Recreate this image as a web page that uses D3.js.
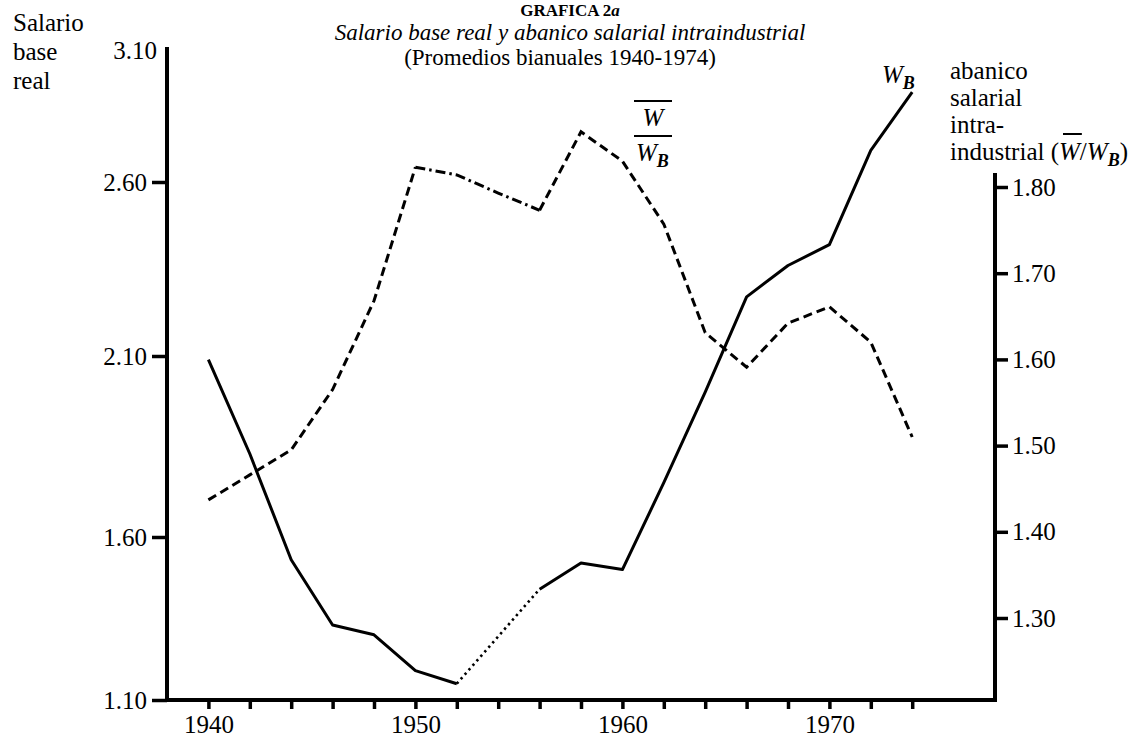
<!DOCTYPE html>
<html>
<head>
<meta charset="utf-8">
<script src="https://cdn.jsdelivr.net/npm/d3@7"></script>
<style>
body { margin: 0; background: #fff; }
svg text { font-family: "Liberation Serif", "Times New Roman", serif; fill: #000; }
</style>
</head>
<body>
<svg id="chart" width="1140" height="738"></svg>
<script>

// bianual averages
var years = [1940, 1942, 1944, 1946, 1948, 1950, 1952, 1954, 1956, 1958, 1960, 1962, 1964, 1966, 1968, 1970, 1972, 1974]
// W_B, salario base real (left axis); 1954 is not plotted, the chart bridges it with dots
var salarioBase = [2.09, 1.83, 1.53, 1.33, 1.30, 1.19, 1.15, null, 1.44, 1.52, 1.50, 1.75, 2.00, 2.27, 2.36, 2.42, 2.72, 2.94]
// W/W_B, abanico salarial intraindustrial (right axis)
var abanico = [1.437, 1.466, 1.495, 1.565, 1.668, 1.823, 1.814, 1.793, 1.773, 1.864, 1.83, 1.757, 1.631, 1.591, 1.642, 1.661, 1.620, 1.510]
var dashDotYears = [1950, 1956]

var yearTicks = [1940, 1942, 1944, 1946, 1948, 1950, 1952, 1954, 1956, 1958, 1960, 1962, 1964, 1966, 1968, 1970, 1972, 1974]
var yearLabels = [1940, 1950, 1960, 1970]
var leftTicks = [1.10, 1.60, 2.10, 2.60, 3.10]
var rightTicks = [1.30, 1.40, 1.50, 1.60, 1.70, 1.80]

var svg = d3.select('#chart')
var baseY = 700, rightTop = 173

var x = d3.scaleLinear().domain([1938, 1978]).range([167, 995])
// the printed left scale is not evenly spaced, so map each tick to where it was drawn
var yL = d3.scaleLinear().domain(leftTicks).range([700, 537, 356, 182, 50])
var yR = d3.scaleLinear().domain([1.30, 1.80]).range([618, 187])

function styleAxis(g) {
    g.attr('font-family', null).attr('font-size', 25)
    g.selectAll('.tick text').attr('fill', '#000')
    g.selectAll('.tick line').attr('stroke', '#000').attr('stroke-width', 3.5)
    g.select('.domain').attr('stroke', '#000').attr('stroke-width', 4)
}

// x axis
var gx = svg.append('g')
    .attr('transform', 'translate(0,' + baseY + ')')
    .call(d3.axisBottom(x)
        .tickValues(yearTicks)
        .tickSize(9).tickSizeOuter(0).tickPadding(6)
        .tickFormat(function(d) { return yearLabels.indexOf(d) >= 0 ? d : '' }))
    .call(styleAxis)
gx.select('.domain').attr('d', 'M' + x(1938) + ',0H' + (x(1978) + 2))

// left axis
var gl = svg.append('g')
    .attr('transform', 'translate(' + x(1938) + ',0)')
    .call(d3.axisLeft(yL)
        .tickValues(leftTicks)
        .tickSize(15).tickSizeOuter(0).tickPadding(5)
        .tickFormat(d3.format('.2f')))
    .call(styleAxis)
gl.select('.domain').attr('d', 'M0,' + (baseY + 2) + 'V47')
gl.selectAll('.tick').filter(function(d) { return d === 3.10 }).each(function() {
    d3.select(this).select('line').remove()
    d3.select(this).select('text').attr('x', -10)
})

// right axis
var gr = svg.append('g')
    .attr('transform', 'translate(' + x(1978) + ',0)')
    .call(d3.axisRight(yR)
        .tickValues(rightTicks)
        .tickSize(13).tickSizeOuter(0).tickPadding(4)
        .tickFormat(d3.format('.2f')))
    .call(styleAxis)
gr.select('.domain').attr('d', 'M0,' + rightTop + 'V' + (baseY + 2))

// W_B line
var wb = years.map(function(yr, i) { return {year: yr, v: salarioBase[i]} })
var solid = d3.line()
    .defined(function(d) { return d.v != null })
    .x(function(d) { return x(d.year) })
    .y(function(d) { return yL(d.v) })

svg.append('path')
    .datum(wb)
    .attr('d', solid)
    .attr('fill', 'none').attr('stroke', '#000').attr('stroke-width', 3)
    .attr('stroke-linejoin', 'round')

var bridges = []
wb.forEach(function(d, i) {
    if (d.v == null && i > 0 && i < wb.length - 1) bridges.push([wb[i - 1], wb[i + 1]])
})
svg.selectAll('.bridge')
    .data(bridges)
    .enter().append('path')
    .attr('class', 'bridge')
    .attr('d', solid)
    .attr('fill', 'none').attr('stroke', '#000').attr('stroke-width', 2.6)
    .attr('stroke-dasharray', '2.4,3.6')

// W/W_B line, split into dashed and dash-dot runs
var ab = years.map(function(yr, i) { return {year: yr, v: abanico[i]} })
var runs = []
d3.pairs(ab).forEach(function(p) {
    var dd = p[0].year >= dashDotYears[0] && p[1].year <= dashDotYears[1]
    var last = runs[runs.length - 1]
    if (last && last.dd === dd) last.pts.push(p[1])
    else runs.push({dd: dd, pts: [p[0], p[1]]})
})
var dashed = d3.line()
    .x(function(d) { return x(d.year) })
    .y(function(d) { return yR(d.v) })

svg.selectAll('.ratio')
    .data(runs)
    .enter().append('path')
    .attr('class', 'ratio')
    .attr('d', function(r) { return dashed(r.pts) })
    .attr('fill', 'none').attr('stroke', '#000').attr('stroke-width', 3)
    .attr('stroke-dasharray', function(r) { return r.dd ? '10,4,2.5,4' : '9,5' })

// titles
svg.append('text')
    .attr('x', 570).attr('y', 16)
    .attr('text-anchor', 'middle').attr('font-size', 17).attr('font-weight', 'bold')
    .text('GRAFICA 2')
    .append('tspan').attr('font-style', 'italic').text('a')

svg.append('text')
    .attr('x', 570).attr('y', 40)
    .attr('text-anchor', 'middle').attr('font-size', 23).attr('font-style', 'italic')
    .text('Salario base real y abanico salarial intraindustrial')

svg.append('text')
    .attr('x', 560).attr('y', 65)
    .attr('text-anchor', 'middle').attr('font-size', 23)
    .text('(Promedios bianuales 1940-1974)')

svg.selectAll('.ltitle')
    .data(['Salario', 'base', 'real'])
    .enter().append('text')
    .attr('class', 'ltitle')
    .attr('x', 13).attr('y', function(d, i) { return 31 + i * 29 })
    .attr('font-size', 25)
    .text(function(d) { return d })

svg.selectAll('.rtitle')
    .data(['abanico', 'salarial', 'intra-'])
    .enter().append('text')
    .attr('class', 'rtitle')
    .attr('x', 950).attr('y', function(d, i) { return 79 + i * 27 })
    .attr('font-size', 25)
    .text(function(d) { return d })

var ind = svg.append('text')
    .attr('x', 950).attr('y', 160)
    .attr('font-size', 25)
ind.append('tspan').text('industrial (')
ind.append('tspan').attr('font-style', 'italic').text('W')
ind.append('tspan').text('/')
ind.append('tspan').attr('font-style', 'italic').text('W')
ind.append('tspan').attr('font-style', 'italic').attr('font-weight', 'bold')
    .attr('font-size', 18).attr('dy', 6).text('B')
ind.append('tspan').attr('dy', -6).text(')')
var wPos = 'industrial ('.length
var w0 = ind.node().getStartPositionOfChar(wPos)
var w1 = ind.node().getEndPositionOfChar(wPos)
svg.append('line')
    .attr('x1', w0.x + 4).attr('x2', w1.x + 2)
    .attr('y1', 134).attr('y2', 134)
    .attr('stroke', '#000').attr('stroke-width', 2)

// series labels
var wbLabel = svg.append('text')
    .attr('x', 882).attr('y', 83)
    .attr('font-size', 25).attr('font-style', 'italic')
wbLabel.append('tspan').text('W')
wbLabel.append('tspan').attr('font-weight', 'bold').attr('font-size', 18).attr('dy', 6).text('B')

var fx0 = 634, fx1 = 672
svg.append('line').attr('x1', fx0).attr('x2', fx1).attr('y1', 101).attr('y2', 101)
    .attr('stroke', '#000').attr('stroke-width', 2)
svg.append('text')
    .attr('x', (fx0 + fx1) / 2).attr('y', 126)
    .attr('text-anchor', 'middle').attr('font-size', 25).attr('font-style', 'italic')
    .text('W')
svg.append('line').attr('x1', fx0).attr('x2', fx1).attr('y1', 136).attr('y2', 136)
    .attr('stroke', '#000').attr('stroke-width', 2)
var frac = svg.append('text')
    .attr('x', 636).attr('y', 161)
    .attr('font-size', 25).attr('font-style', 'italic')
frac.append('tspan').text('W')
frac.append('tspan').attr('font-weight', 'bold').attr('font-size', 18).attr('dy', 6).text('B')

</script>
</body>
</html>
